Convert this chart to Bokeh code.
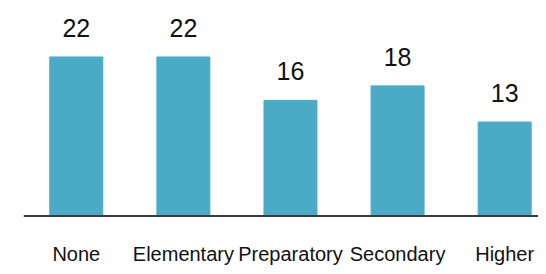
from bokeh.plotting import figure
from bokeh.models import ColumnDataSource, Range1d, Span
from bokeh.core.properties import value
from bokeh.embed import file_html
from bokeh.resources import INLINE

categories = ["None", "Elementary", "Preparatory", "Secondary", "Higher"]
values = [22, 22, 16, 18, 13]

src = ColumnDataSource(dict(
    x=list(range(len(categories))),
    top=values,
    cat=categories,
    lbl=[str(v) for v in values],
    zero=[0] * len(values),
))

p = figure(width=538, height=266, output_backend="svg", toolbar_location=None,
           x_range=Range1d(-0.493, 4.316), y_range=Range1d(-6.98, 29.81),
           x_axis_location=None, y_axis_location=None,
           min_border_left=23, min_border_right=0, min_border_top=0,
           min_border_bottom=0)
p.vbar(x="x", top="top", bottom=0, width=0.495, color="#4BABC6", source=src)
p.xgrid.visible = False
p.ygrid.visible = False
p.outline_line_color = None
p.add_layout(Span(location=0, dimension="width", line_color="#3a3a3a",
                  line_width=2))

p.text(x="x", y="top", text="lbl", source=src, y_offset=-29,
       text_align="center", text_baseline="alphabetic",
       text_font=value("Liberation Sans"), text_font_size="25px",
       text_color="#111111")
p.text(x="x", y="zero", text="cat", source=src, y_offset=38,
       text_align="center", text_baseline="alphabetic",
       text_font=value("Liberation Sans"), text_font_size="20px",
       text_color="#111111")

open("out.html", "w").write(file_html(p, INLINE))
